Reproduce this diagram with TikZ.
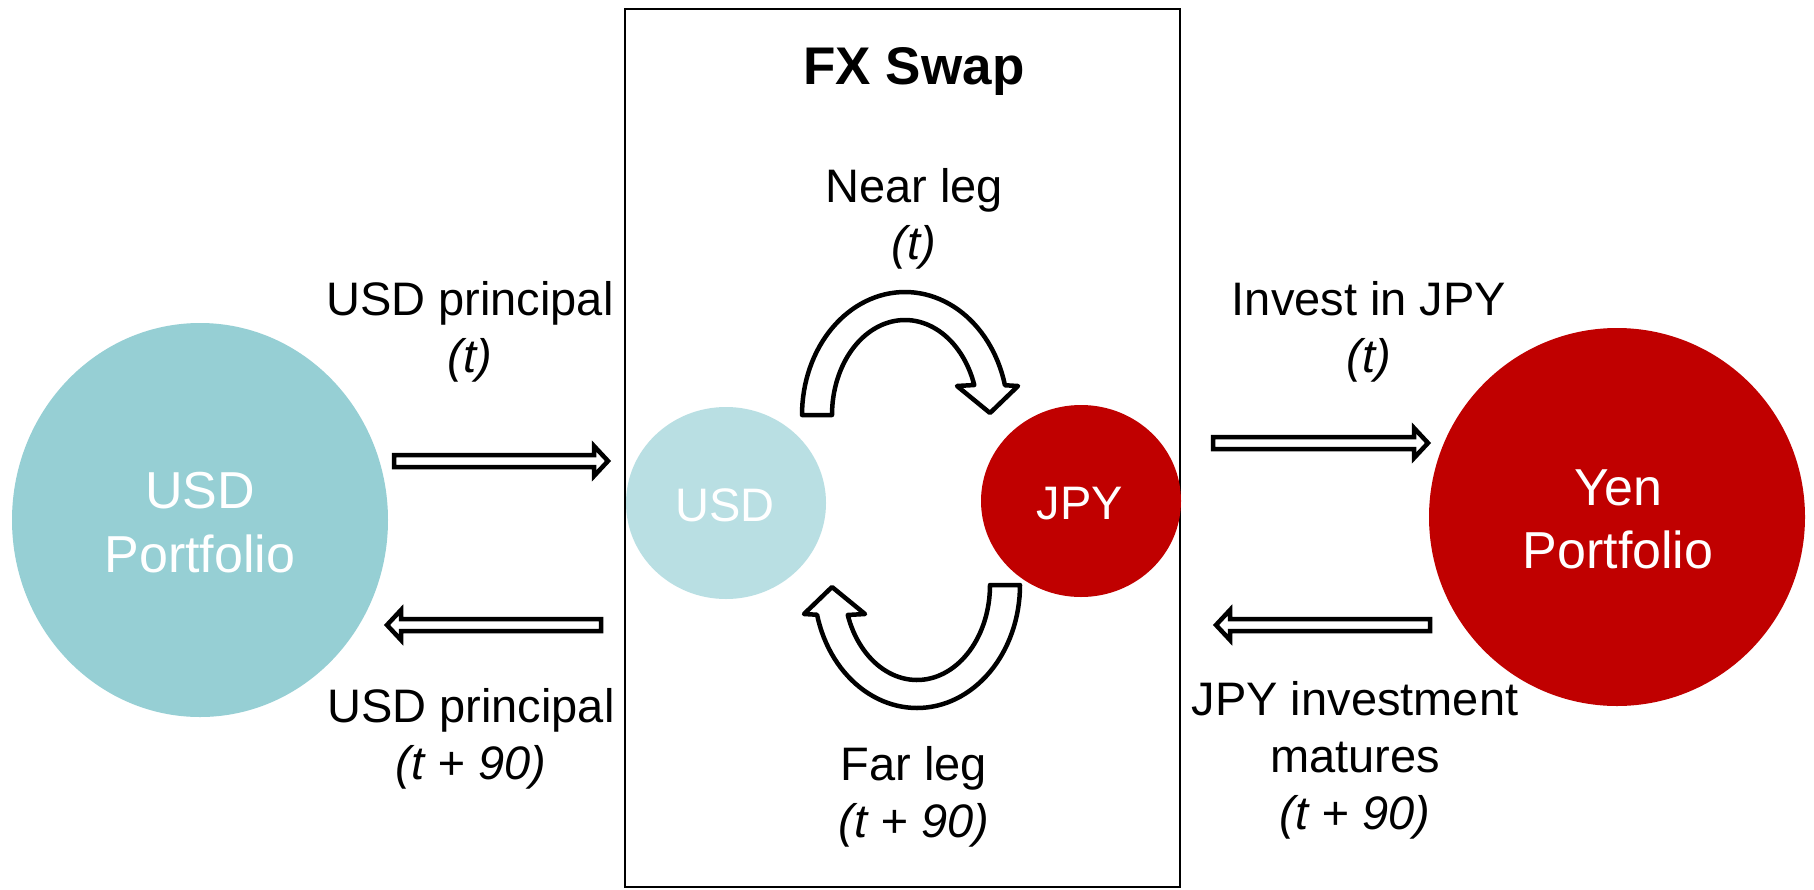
\documentclass[tikz,border=0pt]{standalone}
\usepackage{fontspec}
\setmainfont{Liberation Sans}
\definecolor{tealbig}{HTML}{96CFD4}
\definecolor{teallight}{HTML}{B9DFE3}
\definecolor{jpred}{HTML}{C00000}
\newcommand\blockRight[3]{%
  \draw[blockarrow] (#1+2,#3-6) -- (#2-17,#3-6) -- (#2-17,#3-15) -- (#2-3,#3)
    -- (#2-17,#3+15) -- (#2-17,#3+6) -- (#1+2,#3+6) -- cycle;}
\newcommand\blockLeft[3]{%
  \draw[blockarrow] (#2-2,#3-6) -- (#1+17,#3-6) -- (#1+17,#3-15) -- (#1+3,#3)
    -- (#1+17,#3+15) -- (#1+17,#3+6) -- (#2-2,#3+6) -- cycle;}
\begin{document}
\begin{tikzpicture}[x=1pt,y=-1pt,
  lbl/.style={anchor=base, inner sep=0pt, font=\fontsize{47}{57}\selectfont},
  ilbl/.style={lbl, font=\fontsize{47}{57}\selectfont\itshape},
  big/.style={anchor=base, inner sep=0pt, text=white, font=\fontsize{52}{62}\selectfont},
  small/.style={anchor=base, inner sep=0pt, text=white, font=\fontsize{47}{57}\selectfont},
  blockarrow/.style={draw=black, fill=white, line width=4.5pt},
  curved/.style={draw=black, fill=white, line width=4.5pt, line join=round}]
\useasboundingbox (0,0) rectangle (1814,889);
\fill[white] (0,0) rectangle (1814,889);
% FX swap box
\draw[line width=2.5pt] (625,9) rectangle (1180,887);
\node[anchor=base, inner sep=0pt, font=\fontsize{53}{60}\selectfont\bfseries] (title) at (914,84) {FX Swap};
% big circles
\fill[tealbig] (200,520) ellipse [x radius=188, y radius=197];
\fill[jpred] (1617,517) ellipse [x radius=188, y radius=189];
\node[big] (usdp1) at (200,508) {USD};
\node[big] (usdp2) at (200,572) {Portfolio};
\node[big] (yenp1) at (1618,505) {Yen};
\node[big] (yenp2) at (1618,568) {Portfolio};
% small circles
\fill[teallight] (726,503) ellipse [x radius=100, y radius=96];
\fill[jpred] (1081,501) ellipse [x radius=100, y radius=96];
\node[small] (usds) at (725,521) {USD};
\node[small] (jpys) at (1080,519) {JPY};
% curved arrows
\draw[curved] plot[domain=180:346, samples=60] ({905+103*cos(\x)},{415+123*sin(\x)})
  -- (1018,386) -- (990,413) -- (957,386)
  -- plot[domain=341.6:180, samples=60] ({905+73*cos(\x)},{415+95*sin(\x)}) -- cycle;
\draw[curved] plot[domain=0:166, samples=60] ({917+103*cos(\x)},{585+123*sin(\x)})
  -- (804,614) -- (832,587) -- (865,614)
  -- plot[domain=161.6:0, samples=60] ({917+73*cos(\x)},{585+95*sin(\x)}) -- cycle;
% straight arrows
\blockRight{392}{611}{461}
\blockLeft{384}{603}{625}
\blockRight{1211}{1431}{443}
\blockLeft{1213}{1432}{625}
% labels
\node[lbl] (near1) at (914,202) {Near leg};
\node[ilbl] (near2) at (914,259) {(t)};
\node[lbl] (usdin1) at (470,315) {USD principal};
\node[ilbl] (usdin2) at (470,372) {(t)};
\node[lbl] (inv1) at (1369,315) {Invest in JPY};
\node[ilbl] (inv2) at (1369,372) {(t)};
\node[lbl] (usdout1) at (471,722) {USD principal};
\node[ilbl] (usdout2) at (471,779) {(t + 90)};
\node[lbl] (far1) at (914,780) {Far leg};
\node[ilbl] (far2) at (914,837) {(t + 90)};
\node[lbl] (mat1) at (1355,715) {JPY investment};
\node[lbl] (mat2) at (1355,772) {matures};
\node[ilbl] (mat3) at (1355,829) {(t + 90)};
\end{tikzpicture}
\end{document}
